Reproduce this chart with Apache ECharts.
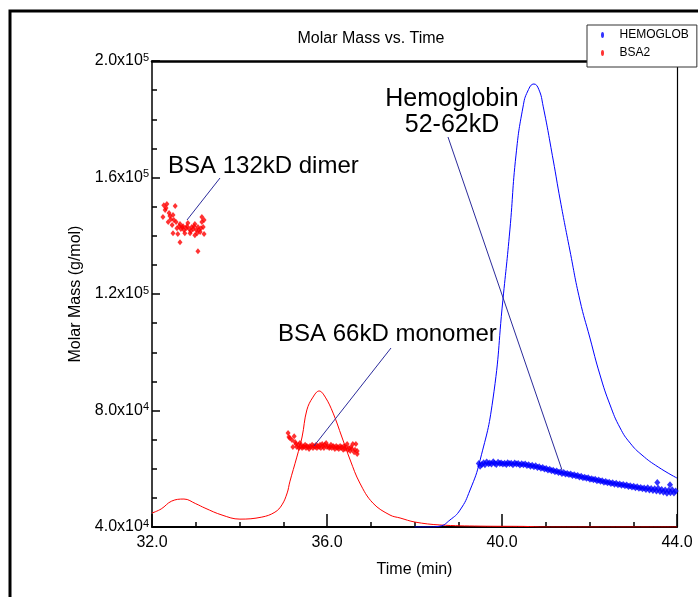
<!DOCTYPE html>
<html><head><meta charset="utf-8">
<script src="https://cdn.jsdelivr.net/npm/echarts@6/dist/echarts.min.js"></script>
<style>html,body{margin:0;padding:0;background:#fff}#c{width:698px;height:597px}</style>
</head><body><div id="c"></div>
<script>
// ---- data ----
const chartTitle = 'Molar Mass vs. Time';
const xAxisName = 'Time (min)';
const yAxisName = 'Molar Mass (g/mol)';
const xRange = [32, 44];
const yRange = [40000, 200000];

// HEMOGLOB molar mass points (time, g/mol)
const hemoglobPoints = [
 [39.47,61800],[39.50,60900],[39.54,61500],[39.58,62100],[39.61,61400],[39.65,62300],[39.69,61700],[39.72,62000],
 [39.76,61600],[39.80,62400],[39.83,61900],[39.87,61500],[39.91,62200],[39.95,61800],[39.98,62000],[40.02,61600],
 [40.06,61900],[40.10,61500],[40.13,62100],[40.17,61700],[40.21,61900],[40.25,61400],[40.29,62000],[40.33,61600],
 [40.37,61800],[40.41,61300],[40.45,61700],[40.49,61400],[40.53,61600],[40.57,61100],[40.61,61400],[40.65,60900],
 [40.69,61200],[40.73,60700],[40.77,61000],[40.81,60400],[40.85,60700],[40.89,60200],[40.93,60400],[40.97,59900],
 [41.01,60100],[41.05,59600],[41.09,59800],[41.13,59300],[41.17,59500],[41.21,59000],[41.25,59200],[41.29,58700],
 [41.33,58900],[41.37,58400],[41.41,58700],[41.45,58200],[41.49,58400],[41.53,58000],[41.57,58200],[41.61,57700],
 [41.65,57900],[41.69,57500],[41.73,57700],[41.77,57200],[41.81,57400],[41.85,56900],[41.89,57100],[41.93,56700],
 [41.97,56900],[42.01,56400],[42.05,56600],[42.09,56200],[42.13,56400],[42.17,55900],[42.21,56100],[42.25,55700],
 [42.29,55900],[42.33,55400],[42.37,55600],[42.41,55200],[42.45,55400],[42.49,54900],[42.53,55200],[42.57,54700],
 [42.61,55000],[42.65,54500],[42.69,54800],[42.73,54300],[42.77,54600],[42.81,54200],[42.85,54400],[42.89,53900],
 [42.93,54200],[42.97,53700],[43.01,54000],[43.05,53500],[43.09,53800],[43.13,53300],[43.17,53600],[43.21,53100],
 [43.25,53400],[43.29,52900],[43.33,53500],[43.37,52700],[43.41,53200],[43.45,52500],[43.49,53100],[43.53,52400],
 [43.55,55300],[43.57,53300],[43.61,52200],[43.65,52900],[43.69,51900],[43.73,52700],[43.77,51600],[43.81,52600],
 [43.84,54500],[43.85,51800],[43.89,52800],[43.93,51700],[43.97,52400]
];

// BSA2 molar mass points – dimer cluster
const bsaDimerPoints = [
 [32.25,146400],[32.27,150500],[32.30,148800],[32.32,149500],[32.34,150900],[32.37,144700],[32.39,147800],
 [32.41,146800],[32.43,145700],[32.46,143700],[32.48,147100],[32.48,140900],[32.50,145400],[32.53,150200],
 [32.55,144700],[32.57,142600],[32.59,140600],[32.62,143300],[32.64,144000],[32.64,137800],[32.66,142300],
 [32.69,143000],[32.71,143300],[32.73,142000],[32.75,140900],[32.78,142600],[32.80,143300],[32.82,144400],
 [32.85,142300],[32.87,140900],[32.89,141600],[32.91,143000],[32.94,142300],[32.96,143300],[32.98,144000],
 [32.98,140200],[33.01,142000],[33.03,140900],[33.05,143000],[33.05,134700],[33.07,142000],[33.10,141300],
 [33.12,142600],[33.14,146400],[33.14,144700],[33.17,143000],[33.19,140600],[33.19,145400]
];
// BSA2 molar mass points – monomer cluster
const bsaMonomerPoints = [
 [35.11,72300],[35.13,70900],[35.15,70600],[35.20,69900],[35.22,67500],[35.25,71200],[35.27,69200],[35.29,68500],
 [35.31,67500],[35.34,68200],[35.36,67100],[35.38,68800],[35.41,67800],[35.43,67100],[35.45,67800],[35.47,67500],
 [35.50,68200],[35.52,67100],[35.54,67800],[35.57,67500],[35.59,66800],[35.61,67800],[35.63,67500],[35.66,68200],
 [35.68,67100],[35.70,67800],[35.73,67500],[35.75,68200],[35.77,67100],[35.79,67800],[35.82,67500],[35.84,68200],
 [35.86,67100],[35.89,68500],[35.91,67800],[35.93,67100],[35.95,68200],[35.98,68800],[36.00,67500],[36.02,67800],
 [36.05,67100],[36.07,67500],[36.09,68200],[36.11,67100],[36.14,67800],[36.16,67500],[36.18,66800],[36.21,67800],
 [36.23,67100],[36.25,67500],[36.27,66800],[36.30,67800],[36.32,67100],[36.34,67500],[36.37,66500],[36.39,67800],
 [36.41,66800],[36.43,67500],[36.46,68500],[36.48,66500],[36.50,67100],[36.53,66100],[36.55,67500],[36.57,66800],
 [36.59,68500],[36.62,65700],[36.64,66500],[36.66,68500],[36.69,65100],[36.69,66100]
];

// detector traces drawn on the molar-mass scale
const hemoglobTrace = [
 [38.0,40000],[38.35,40000],[38.58,40300],[38.81,42400],[39.04,45800],[39.27,52700],[39.50,63000],
 [39.79,83600],[40.02,117900],[40.18,142000],[40.32,167700],[40.48,184200],[40.59,189700],[40.73,192100],
 [40.84,190300],[40.94,184500],[41.17,166000],[41.33,152300],[41.55,135100],[41.78,117900],[42.01,104900],
 [42.24,92200],[42.47,81900],[42.70,74000],[42.93,68800],[43.20,64700],[43.57,60600],[44.0,56800]
];
const bsaTrace = [
 [32.0,44800],[32.21,46200],[32.45,48900],[32.73,49600],[33.0,48000],[33.21,46500],[33.60,44100],[34.01,42700],
 [34.51,43400],[34.81,45100],[34.97,47600],[35.09,51700],[35.15,55500],[35.31,64000],[35.43,70900],[35.54,80200],
 [35.68,84600],[35.82,86700],[35.96,84600],[36.14,79100],[36.34,70900],[36.53,63000],[36.75,55100],[37.05,48200],
 [37.44,44100],[37.67,43100],[38.01,41700],[38.58,40700],[39.5,40300],[40.5,40200],[41.0,40000],[44.0,40000]
];

const seriesNames = ['HEMOGLOB', 'BSA2'];
const annotations = ['BSA 132kD dimer', 'Hemoglobin\n52-62kD', 'BSA 66kD monomer'];

// ---- chart ----
const FONT = '"Liberation Sans", Arial, Helvetica, sans-serif';
const chart = echarts.init(document.getElementById('c'), null, {renderer: 'canvas'});

function sciLabel(v) {
  const e = Math.floor(Math.log10(v) + 1e-9);
  const m = (v / Math.pow(10, e)).toFixed(1);
  return '{m|' + m + 'x10}{e|' + e + '}';
}

const ellipse = 'path://M2,0 A2,4 0 1,1 2,8 A2,4 0 1,1 2,0 Z';

chart.setOption({
  animation: false,
  backgroundColor: '#fff',
  title: {
    text: chartTitle, left: 366, top: 26, textAlign: 'center',
    textStyle: {fontFamily: FONT, fontSize: 16, fontWeight: 'normal', color: '#000'}
  },
  legend: {
    data: [{name: seriesNames[0], icon: ellipse}, {name: seriesNames[1], icon: ellipse}],
    orient: 'vertical', left: 587, top: 25,
    padding: [4, 8, 8, 14], itemGap: 6, itemWidth: 24, itemHeight: 6,
    backgroundColor: '#fff', borderColor: '#333', borderWidth: 1,
    textStyle: {fontFamily: FONT, fontSize: 12, color: '#000'}
  },
  grid: {left: 152, right: 21, top: 61, bottom: 70, containLabel: false},
  xAxis: [{
    type: 'value', min: xRange[0], max: xRange[1], interval: 4,
    name: xAxisName, nameLocation: 'middle', nameGap: 35,
    nameTextStyle: {fontFamily: FONT, fontSize: 16, color: '#000'},
    axisLine: {lineStyle: {color: '#000', width: 2}},
    axisTick: {inside: true, length: 13, lineStyle: {color: '#000', width: 1.5}},
    minorTick: {show: true, splitNumber: 4, length: 5, lineStyle: {color: '#000', width: 1.5}},
    axisLabel: {margin: 8, fontFamily: FONT, fontSize: 16, color: '#000', formatter: v => v.toFixed(1)},
    splitLine: {show: false}
  }, {
    type: 'value', position: 'top', min: xRange[0], max: xRange[1],
    axisLine: {lineStyle: {color: '#000', width: 2.5}},
    axisTick: {show: false}, axisLabel: {show: false}, splitLine: {show: false}
  }],
  yAxis: [{
    type: 'value', min: yRange[0], max: yRange[1], interval: 40000,
    name: yAxisName, nameLocation: 'middle', nameGap: 62, nameRotate: 90,
    nameTextStyle: {fontFamily: FONT, fontSize: 16, color: '#000'},
    axisLine: {show: true, lineStyle: {color: '#000', width: 1.5}},
    axisTick: {inside: true, length: 8, lineStyle: {color: '#000', width: 1.5}},
    minorTick: {show: true, splitNumber: 4, length: 5, lineStyle: {color: '#000', width: 1.5}},
    axisLabel: {
      margin: 3, formatter: sciLabel,
      rich: {
        m: {fontFamily: FONT, fontSize: 16, color: '#000', lineHeight: 18},
        e: {fontFamily: FONT, fontSize: 11, color: '#000', verticalAlign: 'top', lineHeight: 18, padding: [0, 0, 9, 0]}
      }
    },
    splitLine: {show: false}
  }, {
    type: 'value', position: 'right', min: yRange[0], max: yRange[1],
    axisLine: {show: true, lineStyle: {color: '#000', width: 1.2}},
    axisTick: {show: false}, axisLabel: {show: false}, splitLine: {show: false}
  }],
  series: [
    {name: 'bsaTrace', type: 'line', data: bsaTrace, smooth: 0.4, showSymbol: false,
     lineStyle: {color: '#ff0000', width: 1}, z: 2},
    {name: 'hemoglobTrace', type: 'line', data: hemoglobTrace, smooth: 0.5, showSymbol: false,
     lineStyle: {color: '#0000ff', width: 1}, z: 2},
    {name: seriesNames[0], type: 'scatter', data: hemoglobPoints, symbol: 'diamond', symbolSize: [6, 7],
     itemStyle: {color: '#0000ff'}, z: 3},
    {name: seriesNames[1], type: 'scatter', data: bsaDimerPoints.concat(bsaMonomerPoints), symbol: 'diamond', symbolSize: [5, 6],
     itemStyle: {color: '#ff0000'}, z: 3}
  ],
  graphic: [
    {type: 'rect', shape: {x: 10, y: 11, width: 720, height: 620}, style: {fill: 'none', stroke: '#000', lineWidth: 3}, z: 0, silent: true},
    {type: 'text', left: 168, top: 154, style: {text: annotations[0], font: '24px ' + FONT, fill: '#000'}, z: 10},
    {type: 'text', x: 452, y: 86, style: {text: annotations[1], font: '25px ' + FONT, fill: '#000', textAlign: 'center', lineHeight: 26}, z: 10},
    {type: 'text', left: 278, top: 322, style: {text: annotations[2], font: '24px ' + FONT, fill: '#000'}, z: 10},
    {type: 'line', shape: {x1: 220, y1: 178, x2: 187, y2: 220}, style: {stroke: '#2b2b9b', lineWidth: 1}, z: 10},
    {type: 'line', shape: {x1: 448, y1: 137, x2: 562, y2: 470}, style: {stroke: '#2b2b9b', lineWidth: 1}, z: 10},
    {type: 'line', shape: {x1: 391, y1: 348, x2: 314, y2: 446}, style: {stroke: '#2b2b9b', lineWidth: 1}, z: 10}
  ]
});
</script>
</body></html>
